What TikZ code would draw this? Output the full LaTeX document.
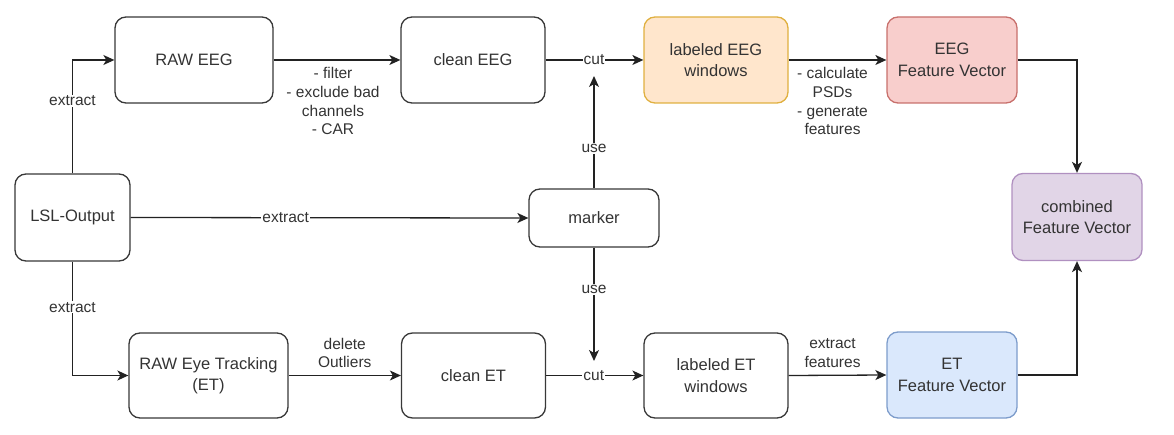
\documentclass[tikz,border=0pt]{standalone}
\usepackage{fontspec}
\setmainfont{Liberation Sans}
\usetikzlibrary{arrows.meta}
\definecolor{txt}{HTML}{333333}
\definecolor{ln}{HTML}{222222}
\definecolor{oraF}{HTML}{FFE6CC}\definecolor{oraD}{HTML}{E0B040}
\definecolor{redF}{HTML}{F8CECC}\definecolor{redD}{HTML}{C8706C}
\definecolor{bluF}{HTML}{DAE8FC}\definecolor{bluD}{HTML}{7D9CCB}
\definecolor{purF}{HTML}{E1D5E7}\definecolor{purD}{HTML}{B090C0}
\begin{document}
\begin{tikzpicture}[x=1pt,y=-1pt,
  box/.style={draw=ln!90, rounded corners=11pt, line width=1.3pt, align=center,
    font=\fontsize{16.5}{21.5}\selectfont, text=txt, inner sep=0pt,
    minimum width=144pt, minimum height=86pt},
  arr/.style={draw=ln, line width=1.3pt, -{Stealth[length=11pt,width=10pt,inset=3pt]}},
  lbl/.style={fill=white, inner sep=1pt, font=\fontsize{15.5}{18.7}\selectfont, text=txt},
  lblc/.style={inner sep=1pt, align=center, font=\fontsize{15.5}{18.7}\selectfont, text=txt}]
\useasboundingbox (0,0) rectangle (1174,435);
% nodes
\node[box, minimum width=158pt] (raweeg) at (194,60) {RAW EEG};
\node[box] (cleaneeg) at (473,60) {clean EEG};
\node[box, fill=oraF, draw=oraD] (labeeg) at (716,60) {labeled EEG\\windows};
\node[box, minimum width=130pt, fill=redF, draw=redD] (eegfv) at (952,60) {EEG\\Feature Vector};
\node[box, minimum width=130pt, minimum height=87pt, fill=purF, draw=purD] (comb) at (1077,217) {combined\\Feature Vector};
\node[box, minimum width=115pt, minimum height=87pt] (lsl) at (72.5,217.5) {LSL-Output};
\node[box, minimum width=130pt, minimum height=58pt] (marker) at (594,218) {marker};
\node[box, minimum width=159pt, minimum height=85pt] (rawet) at (208.5,375.5) {RAW Eye Tracking\\(ET)};
\node[box, minimum height=85pt] (cleanet) at (473.5,375.5) {clean ET};
\node[box, minimum height=85pt] (labet) at (716,375.5) {labeled ET\\windows};
\node[box, minimum width=130pt, fill=bluF, draw=bluD] (etfv) at (952,375) {ET\\Feature Vector};
\coordinate (cutE) at (594,76);
\coordinate (cutT) at (594,361);
% edges
\draw[arr] (lsl.north) |- (raweeg.west) node[lbl, pos=0.32] {extract};
\draw[arr] (lsl.south) |- (rawet.west) node[lbl, pos=0.2] {extract};
\draw[arr] (lsl.east) -- (marker.west) node[lbl, pos=0.39] {extract};
\draw[arr] (raweeg.east) -- (cleaneeg.west) node[lblc, midway, below=6pt, xshift=-4pt] {- filter\\- exclude bad\\channels\\- CAR};
\draw[arr] (cleaneeg.east) -- (labeeg.west) node[lbl, pos=0.495] {cut};
\draw[arr] (marker.north) -- (cutE) node[lbl, pos=0.354] {use};
\draw[arr] (marker.south) -- (cutT) node[lbl, pos=0.37] {use};
\draw[arr] (cleanet.east) -- (labet.west) node[lbl, pos=0.49] {cut};
\draw[arr] (rawet.east) -- (cleanet.west) node[lblc, midway, above=6pt] {delete\\Outliers};
\draw[arr] (labeeg.east) -- (eegfv.west) node[lblc, midway, below=6pt, xshift=-5pt] {- calculate\\PSDs\\- generate\\features};
\draw[arr] (labet.east) -- (etfv.west) node[lblc, midway, above=6pt, xshift=-5pt] {extract\\features};
\draw[arr] (eegfv.east) -| (comb.north);
\draw[arr] (etfv.east) -| (comb.south);
\end{tikzpicture}
\end{document}
